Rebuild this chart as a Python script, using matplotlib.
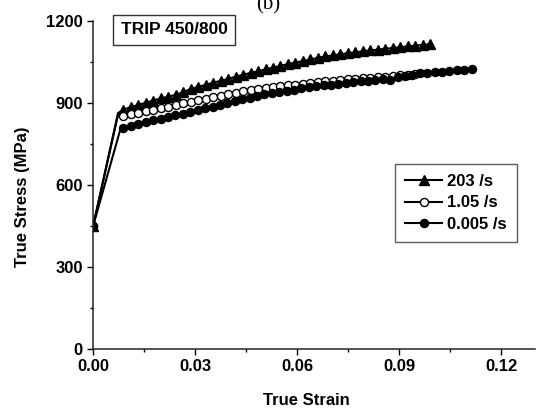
import matplotlib
matplotlib.use("Agg")
import matplotlib.pyplot as plt
from matplotlib.ticker import MultipleLocator

plt.rcParams["font.family"] = ["Liberation Sans", "DejaVu Sans"]
plt.rcParams["font.weight"] = "bold"

# 203 /s  (triangles)
strain_203 = [0.0, 0.0073,
              0.0089, 0.0111, 0.0133, 0.0155, 0.0177, 0.0199, 0.0221, 0.0243, 0.0265, 0.0287,
              0.0309, 0.0331, 0.0353, 0.0375, 0.0397, 0.0419, 0.0441, 0.0463, 0.0485, 0.0507,
              0.0529, 0.0551, 0.0573, 0.0595, 0.0617, 0.0639, 0.0661, 0.0683, 0.0705, 0.0727,
              0.0749, 0.0771, 0.0793, 0.0815, 0.0837, 0.0859, 0.0881, 0.0903, 0.0925, 0.0947,
              0.0969, 0.0991]
stress_203 = [450, 862,
              875, 884, 892, 900, 908, 916, 922, 929, 939, 950,
              958, 965, 973, 980, 987, 995, 1002, 1009, 1015, 1022,
              1028, 1035, 1041, 1047, 1052, 1058, 1064, 1069, 1073, 1077,
              1081, 1084, 1088, 1091, 1094, 1097, 1100, 1103, 1106, 1109,
              1111, 1114]

# 1.05 /s  (open circles)
strain_105 = [0.0, 0.0073,
              0.0089, 0.0111, 0.0133, 0.0155, 0.0177, 0.0199, 0.0221, 0.0243, 0.0265, 0.0287,
              0.0309, 0.0331, 0.0353, 0.0375, 0.0397, 0.0419, 0.0441, 0.0463, 0.0485, 0.0507,
              0.0529, 0.0551, 0.0573, 0.0595, 0.0617, 0.0639, 0.0661, 0.0683, 0.0705, 0.0727,
              0.0749, 0.0771, 0.0793, 0.0815, 0.0837, 0.0859, 0.0881, 0.0903, 0.0925, 0.0947]
stress_105 = [450, 856,
              851, 857, 863, 869, 875, 880, 886, 892, 898, 904,
              910, 915, 921, 926, 931, 936, 941, 946, 951, 955,
              958, 961, 964, 966, 969, 972, 976, 979, 981, 983,
              985, 987, 989, 991, 993, 995, 998, 1001, 1003, 1006]

# 0.005 /s  (filled circles)
strain_0005 = [0.0, 0.0080,
               0.0089, 0.0111, 0.0133, 0.0154, 0.0176, 0.0198, 0.0220, 0.0242, 0.0263, 0.0285,
               0.0307, 0.0329, 0.0351, 0.0372, 0.0394, 0.0416, 0.0438, 0.0460, 0.0481, 0.0503,
               0.0525, 0.0547, 0.0569, 0.0590, 0.0612, 0.0634, 0.0656, 0.0678, 0.0699, 0.0721,
               0.0743, 0.0765, 0.0787, 0.0808, 0.0830, 0.0852, 0.0874, 0.0896, 0.0917, 0.0939,
               0.0961, 0.0983, 0.1005, 0.1026, 0.1048, 0.1070, 0.1092, 0.1114]
stress_0005 = [450, 803,
               806, 813, 821, 828, 835, 842, 848, 854, 860, 866,
               873, 879, 886, 892, 899, 906, 913, 918, 924, 930,
               935, 940, 944, 948, 952, 956, 960, 963, 966, 969,
               972, 975, 978, 981, 984, 987, 982, 993, 998, 1003,
               1007, 1010, 1012, 1014, 1016, 1018, 1021, 1023]

labels = ["203 /s", "1.05 /s", "0.005 /s"]

fig = plt.figure(figsize=(5.36, 4.12), dpi=100)
ax = fig.add_axes([0.1739, 0.1536, 0.8243, 0.7962])

def marks(n):
    # no marker on the elastic knee point
    return [0] + list(range(2, n))

ax.plot(strain_203, stress_203, "-", color="black", lw=1.5, marker="^", ms=6.5,
        mfc="black", mec="black", markevery=marks(len(strain_203)), label=labels[0])
ax.plot(strain_105, stress_105, "-", color="black", lw=1.5, marker="o", ms=5.8,
        mfc="white", mec="black", mew=1.0, markevery=marks(len(strain_105)), label=labels[1])
ax.plot(strain_0005, stress_0005, "-", color="black", lw=1.5, marker="o", ms=5.8,
        mfc="black", mec="black", markevery=marks(len(strain_0005)), label=labels[2])

ax.set_xlim(0, 0.13)
ax.set_ylim(0, 1200)
ax.xaxis.set_minor_locator(MultipleLocator(0.015))
ax.yaxis.set_major_locator(MultipleLocator(300))
ax.yaxis.set_minor_locator(MultipleLocator(150))
ax.set_xticks([0, 0.03, 0.06, 0.09, 0.12])
ax.set_xticklabels(["0.00", "0.03", "0.06", "0.09", "0.12"])

for s in ["top", "right"]:
    ax.spines[s].set_visible(False)
for s in ["left", "bottom"]:
    ax.spines[s].set_linewidth(1.1)
    ax.spines[s].set_color("#222222")

ax.tick_params(which="major", direction="out", length=4.5, width=1.0, labelsize=12, pad=3)
ax.tick_params(which="minor", direction="out", length=2.3, width=1.0)
for lab in ax.get_xticklabels() + ax.get_yticklabels():
    lab.set_fontweight("bold")

ax.set_xlabel("True Strain", fontsize=12, fontweight="bold")
ax.set_ylabel("True Stress (MPa)", fontsize=12, fontweight="bold")
ax.xaxis.set_label_coords(0.482, -0.135)
ax.yaxis.set_label_coords(-0.143, 0.464)

ax.text(174 / 536, 1 - 30 / 412, "TRIP 450/800", transform=fig.transFigure,
        ha="center", va="center", fontsize=12.5, fontweight="bold",
        bbox=dict(boxstyle="square,pad=0.42", fc="white", ec="#333333", lw=1.0))

leg = ax.legend(loc="upper right", bbox_to_anchor=(517 / 536, 1 - 164 / 412),
                bbox_transform=fig.transFigure, frameon=True, fancybox=False,
                prop={"weight": "bold", "size": 12}, handlelength=2.25,
                handletextpad=0.3, labelspacing=0.38, borderpad=0.6,
                borderaxespad=0)
leg.get_frame().set_edgecolor("#333333")
leg.get_frame().set_linewidth(1.0)

fig.text(0.5, 1 - 9 / 412, "(b)", ha="center", va="baseline",
         fontsize=15, family=["Liberation Serif", "DejaVu Serif"], fontweight="normal")

fig.savefig("out.png", dpi=100)
